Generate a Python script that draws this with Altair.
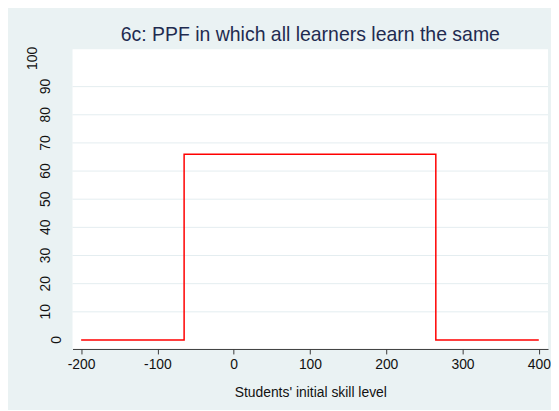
import altair as alt
import pandas as pd

# Data
skill = [-200, -65, -65, 265, 265, 400]
gain = [0, 0, 66, 66, 0, 0]
x_ticks = [-200, -100, 0, 100, 200, 300, 400]
y_ticks = [0, 10, 20, 30, 40, 50, 60, 70, 80, 90, 100]
grid_vals = [10, 20, 30, 40, 50, 60, 70, 80, 90]

line_df = pd.DataFrame({"skill": skill, "gain": gain, "order": list(range(len(skill)))})
grid_df = pd.DataFrame({"g": grid_vals})
ylab_df = pd.DataFrame({"v": y_ticks, "label": [str(v) for v in y_ticks]})
ylab_df["n"] = ylab_df["label"].str.len()

W, H = 479, 302
xscale = alt.Scale(domain=[-211.3, 412.1], nice=False, zero=False)
yscale = alt.Scale(domain=[-3.2, 103.3], nice=False, zero=False)

axis_col = "#3a3a3a"
font = "Liberation Sans"

grid = alt.Chart(grid_df).mark_rule(color="#E4EDF0", strokeWidth=1).encode(
    y=alt.Y("g:Q", scale=yscale, axis=None),
    x=alt.value(0),
    x2=alt.value(W),
)

line = alt.Chart(line_df).mark_line(color="#FF0000", strokeWidth=1.5).encode(
    x=alt.X(
        "skill:Q",
        scale=xscale,
        title="Students' initial skill level",
        axis=alt.Axis(
            values=x_ticks,
            grid=False,
            labelExpr="'' + datum.value",
            domainColor=axis_col,
            tickColor=axis_col,
            tickSize=5,
            labelFont=font,
            labelFontSize=14,
            labelColor="#111111",
            labelPadding=4,
            titleFont=font,
            titleFontSize=14,
            titleFontWeight="normal",
            titleColor="#111111",
            titleBaseline="alphabetic",
            titleY=48,
        ),
    ),
    y=alt.Y(
        "gain:Q",
        scale=yscale,
        title=None,
        axis=alt.Axis(
            values=y_ticks,
            grid=False,
            labels=False,
            domainColor=axis_col,
            tickColor=axis_col,
            tickSize=5,
        ),
    ),
    order="order:Q",
)

def ylabels(n, xpos):
    return alt.Chart(ylab_df).transform_filter(f"datum.n == {n}").mark_text(
        angle=270, align="center", baseline="alphabetic",
        font=font, fontSize=14, color="#111111"
    ).encode(
        y=alt.Y("v:Q", scale=yscale, axis=None),
        x=alt.value(xpos),
        text="label:N",
    )

chart = alt.layer(
    grid, line, ylabels(3, -35.3), ylabels(2, -22.3), ylabels(1, -11.3)
).properties(
    width=W,
    height=H,
    background="#EAF2F3",
    padding={"left": 65, "top": 40, "right": 3, "bottom": 60},
    autosize=alt.AutoSizeParams(type="none"),
    title=alt.Title(
        "6c: PPF in which all learners learn the same",
        font=font,
        fontSize=19.6,
        fontWeight="normal",
        color="#1F2B50",
        baseline="alphabetic",
        offset=6,
        dy=20,
        anchor="middle",
    ),
).configure_view(fill="white", stroke=None)

chart.save("out.html", embed_options={"renderer": "svg", "actions": False})
